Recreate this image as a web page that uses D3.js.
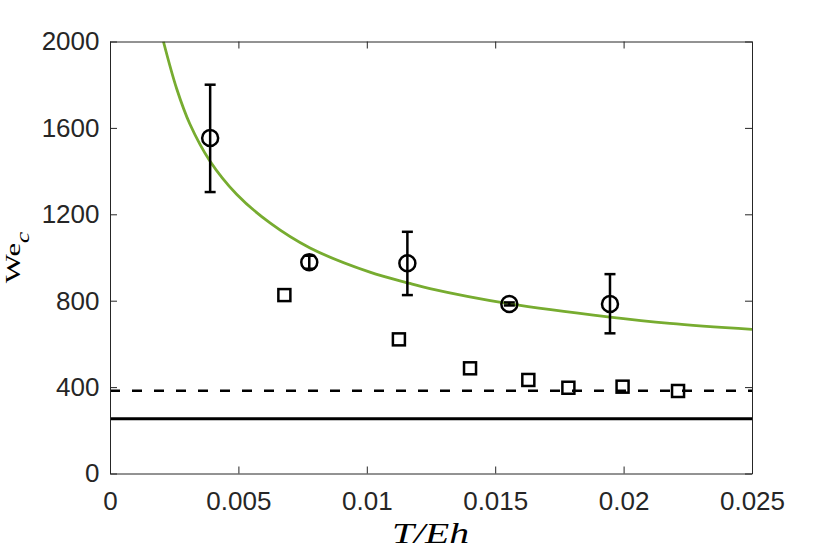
<!DOCTYPE html>
<html>
<head>
<meta charset="utf-8">
<script src="https://cdn.jsdelivr.net/npm/d3@7"></script>
<style>
  body { margin: 0; background: #fff; }
</style>
</head>
<body>
<div id="chart"></div>
<script>
// circles with error bars
const circleX = [0.0039, 0.00776, 0.01158, 0.01555, 0.01947];
const circleY = [1553, 978, 973, 785, 785];
const circleLow = [1303, 948, 826, 778, 649];
const circleHigh = [1800, 1008, 1119, 792, 923];

// squares
const squareX = [0.00679, 0.01125, 0.01402, 0.01629, 0.01785, 0.01996, 0.02212];
const squareY = [826, 621, 487, 433, 397, 402, 382];

// green curve
const curveX = [0.00208, 0.0026, 0.00311, 0.00389, 0.00493, 0.00623, 0.00779, 0.01012, 0.01168, 0.01246, 0.01558, 0.01947, 0.0218, 0.025];
const curveY = [2000, 1780, 1618, 1447, 1293, 1160, 1044, 932, 880, 856, 785, 724, 695, 667];

// horizontal reference lines
const dashedLevel = 383;
const solidLevel = 254;

const xTicks = [0, 0.005, 0.01, 0.015, 0.02, 0.025];
const xTickLabels = ["0", "0.005", "0.01", "0.015", "0.02", "0.025"];
const yTicks = [0, 400, 800, 1200, 1600, 2000];

const W = 830, H = 554;
const mLeft = 110, mRight = 752, mTop = 41.5, mBottom = 473.5;
const axisColor = "#262626";
const green = "#77AC30";

const svg = d3.select("#chart").append("svg")
  .attr("width", W)
  .attr("height", H)
  .style("font-family", "'Liberation Sans', Arial, Helvetica, sans-serif");

const x = d3.scaleLinear().domain([0, 0.025]).range([mLeft, mRight]);
const y = d3.scaleLinear().domain([0, 2000]).range([mBottom, mTop]);

svg.append("defs").append("clipPath").attr("id", "plotclip")
  .append("rect")
  .attr("x", mLeft).attr("y", mTop)
  .attr("width", mRight - mLeft).attr("height", mBottom - mTop);

const plot = svg.append("g").attr("clip-path", "url(#plotclip)");

// reference lines
plot.append("line")
  .attr("x1", x(0)).attr("x2", x(0.025))
  .attr("y1", y(solidLevel)).attr("y2", y(solidLevel))
  .attr("stroke", "#000").attr("stroke-width", 3);

plot.append("line")
  .attr("x1", x(0)).attr("x2", x(0.025))
  .attr("y1", y(dashedLevel)).attr("y2", y(dashedLevel))
  .attr("stroke", "#000").attr("stroke-width", 2.5)
  .attr("stroke-dasharray", "10,12");

// green curve
const line = d3.line()
  .x((d, i) => x(curveX[i]))
  .y((d, i) => y(curveY[i]))
  .curve(d3.curveCatmullRom);

plot.append("path")
  .attr("d", line(curveX))
  .attr("fill", "none")
  .attr("stroke", green)
  .attr("stroke-width", 2.8);

// error bars
const cap = 5.5;
const eb = svg.append("g").attr("stroke", "#000").attr("stroke-width", 2.5).attr("fill", "none");
circleX.forEach((cx, i) => {
  const px = x(cx);
  eb.append("line").attr("x1", px).attr("x2", px)
    .attr("y1", y(circleLow[i])).attr("y2", y(circleHigh[i]));
  eb.append("line").attr("x1", px - cap).attr("x2", px + cap)
    .attr("y1", y(circleLow[i])).attr("y2", y(circleLow[i]));
  eb.append("line").attr("x1", px - cap).attr("x2", px + cap)
    .attr("y1", y(circleHigh[i])).attr("y2", y(circleHigh[i]));
  eb.append("circle").attr("cx", px).attr("cy", y(circleY[i])).attr("r", 8);
});

// squares
const side = 12;
svg.append("g").selectAll("rect")
  .data(squareX)
  .join("rect")
  .attr("x", (d) => x(d) - side / 2)
  .attr("y", (d, i) => y(squareY[i]) - side / 2)
  .attr("width", side).attr("height", side)
  .attr("fill", "none")
  .attr("stroke", "#000")
  .attr("stroke-width", 2.5);

// axes
function styleAxis(g) {
  g.selectAll("path, line").attr("stroke", axisColor).attr("stroke-width", 1);
  g.selectAll("text").attr("fill", axisColor).style("font-size", "26px");
}

svg.append("g")
  .attr("transform", `translate(0,${mBottom})`)
  .call(d3.axisBottom(x).tickValues(xTicks).tickFormat((d, i) => xTickLabels[i])
    .tickSizeInner(-7).tickSizeOuter(0).tickPadding(18))
  .call(styleAxis);

svg.append("g")
  .attr("transform", `translate(0,${mTop})`)
  .call(d3.axisTop(x).tickValues(xTicks).tickFormat("")
    .tickSizeInner(-7).tickSizeOuter(0))
  .call(styleAxis);

svg.append("g")
  .attr("transform", `translate(${mLeft},0)`)
  .call(d3.axisLeft(y).tickValues(yTicks).tickFormat(d3.format("d"))
    .tickSizeInner(-7).tickSizeOuter(0).tickPadding(10.5))
  .call(styleAxis);

svg.append("g")
  .attr("transform", `translate(${mRight},0)`)
  .call(d3.axisRight(y).tickValues(yTicks).tickFormat("")
    .tickSizeInner(-7).tickSizeOuter(0))
  .call(styleAxis);

// axis labels
svg.append("text")
  .attr("x", 392)
  .attr("y", 542.5)
  .attr("textLength", 77)
  .attr("lengthAdjust", "spacingAndGlyphs")
  .style("font-family", "'Liberation Serif', 'Times New Roman', serif")
  .style("font-style", "italic")
  .style("font-size", "29px")
  .attr("fill", "#000")
  .text("T/Eh");

const yl = svg.append("text")
  .attr("transform", `translate(19.5,${(mTop + mBottom) / 2}) rotate(-90) scale(1.4,1)`)
  .attr("text-anchor", "middle")
  .style("font-family", "'Liberation Serif', 'Times New Roman', serif")
  .style("font-size", "22px")
  .attr("fill", "#000");
yl.append("tspan").text("We");
yl.append("tspan").attr("dy", 9).style("font-size", "18px").style("font-style", "italic").text("c");
</script>
</body>
</html>
